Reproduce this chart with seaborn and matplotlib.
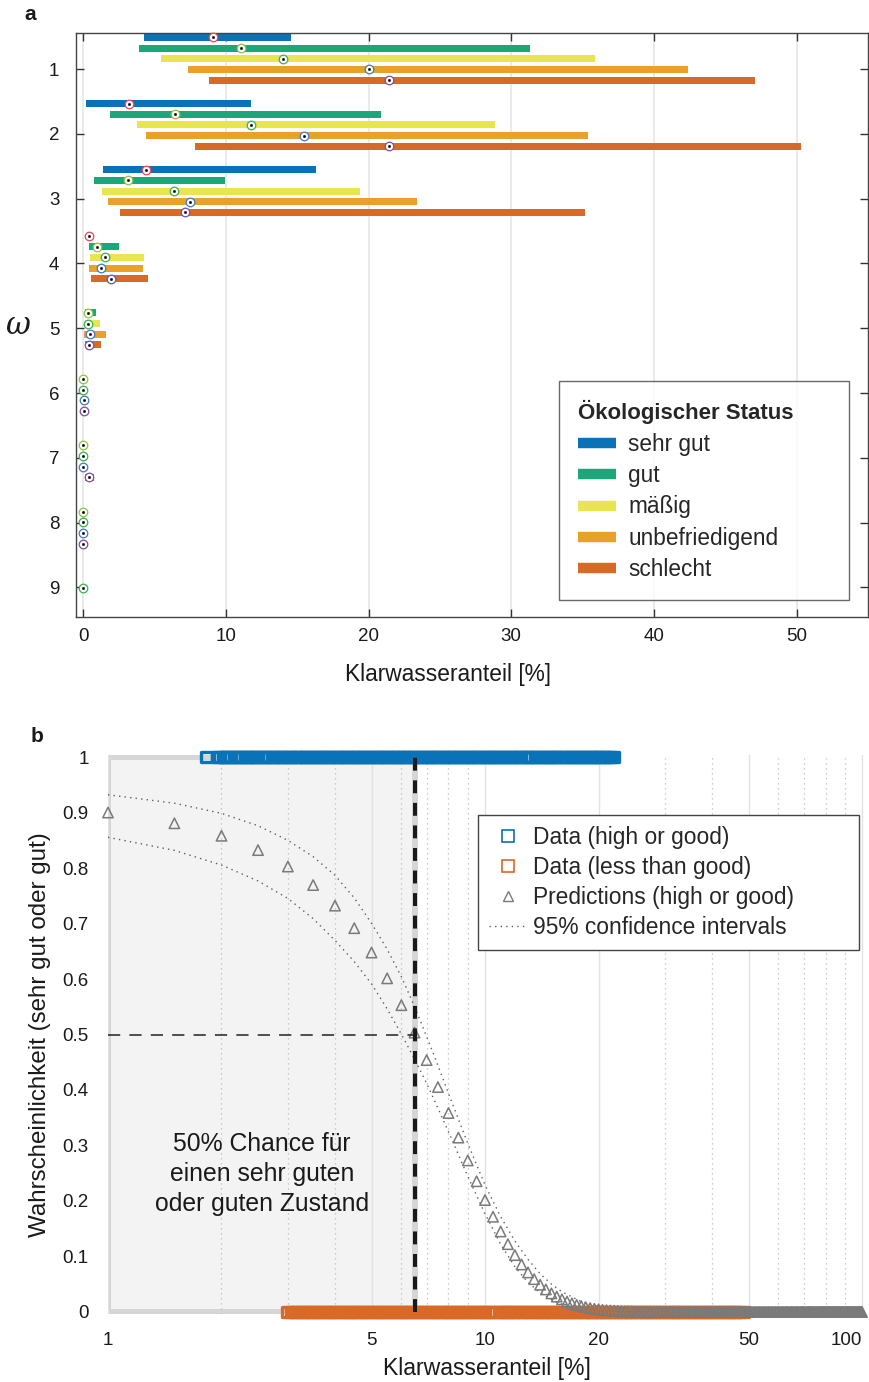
import numpy as np
import matplotlib
matplotlib.use("Agg")
import matplotlib.pyplot as plt
import seaborn as sns
from matplotlib.patches import Rectangle
from matplotlib.lines import Line2D
from matplotlib.ticker import FixedLocator, FixedFormatter, NullFormatter

# ------------------------------------------------------------------
# Panel a: Klarwasseranteil ranges and medians per omega and status
# ------------------------------------------------------------------
nan = np.nan
omega = [1, 2, 3, 4, 5, 6, 7, 8, 9]
status_labels = ["sehr gut", "gut", "mäßig", "unbefriedigend", "schlecht"]

sehr_gut_low = [4.29, 0.21, 1.40, 0.40, nan, nan, nan, nan, nan]
sehr_gut_high = [14.57, 11.76, 16.32, 0.40, nan, nan, nan, nan, nan]
sehr_gut_med = [9.08, 3.24, 4.44, 0.40, nan, nan, nan, nan, nan]

gut_low = [3.88, 1.91, 0.75, 0.40, 0.12, 0.0, 0.0, 0.0, nan]
gut_high = [31.30, 20.85, 9.94, 2.50, 0.89, 0.05, 0.0, 0.0, nan]
gut_med = [11.06, 6.42, 3.15, 0.98, 0.35, 0.02, 0.0, 0.0, nan]

maessig_low = [5.46, 3.76, 1.35, 0.47, 0.12, 0.0, 0.0, 0.0, 0.0]
maessig_high = [35.85, 28.85, 19.37, 4.27, 1.21, 0.05, 0.0, 0.0, 0.0]
maessig_med = [13.98, 11.76, 6.40, 1.54, 0.37, 0.02, 0.0, 0.0, 0.0]

unbef_low = [7.35, 4.39, 1.75, 0.42, 0.07, 0.0, 0.0, 0.0, nan]
unbef_high = [42.40, 35.40, 23.41, 4.22, 1.59, 0.10, 0.0, 0.0, nan]
unbef_med = [20.03, 15.45, 7.47, 1.28, 0.51, 0.05, 0.0, 0.0, nan]

schlecht_low = [8.85, 7.87, 2.59, 0.56, 0.12, 0.0, 0.16, 0.0, nan]
schlecht_high = [47.10, 50.30, 35.20, 4.53, 1.26, 0.20, 0.79, 0.0, nan]
schlecht_med = [21.45, 21.40, 7.14, 1.98, 0.40, 0.07, 0.44, 0.0, nan]

ranges_low = [sehr_gut_low, gut_low, maessig_low, unbef_low, schlecht_low]
ranges_high = [sehr_gut_high, gut_high, maessig_high, unbef_high, schlecht_high]
medians = [sehr_gut_med, gut_med, maessig_med, unbef_med, schlecht_med]

bar_colors = ["#0A72B6", "#1CA77B", "#E8E551", "#E8A12A", "#D86A28"]
ring_colors = ["#E5484D", "#8CC63F", "#38B44A", "#3E7CC9", "#7D4FA0"]

# ------------------------------------------------------------------
# Panel b: logistic regression on Klarwasseranteil
# ------------------------------------------------------------------
data_good = [1.82, 1.95, 1.98, 2.02, 2.05, 2.09, 2.11, 2.16, 2.19, 2.23, 2.26, 2.31,
             2.34, 2.37, 2.42, 2.46, 2.49, 2.55, 2.58, 2.64, 2.67, 2.73, 2.77, 2.83,
             2.87, 2.91, 2.97, 3.03, 3.07, 3.14, 3.18, 3.24, 3.31, 3.35, 3.42, 3.47,
             3.55, 3.59, 3.66, 3.72, 3.80, 3.86, 3.92, 4.01, 4.06, 4.15, 4.20, 4.29,
             4.35, 4.44, 4.50, 4.60, 4.66, 4.77, 4.83, 4.93, 5.00, 5.11, 5.18, 5.29,
             5.37, 5.48, 5.56, 5.67, 5.77, 5.86, 5.98, 6.07, 6.19, 6.28, 6.41, 6.51,
             6.64, 6.74, 6.88, 6.98, 7.12, 7.23, 7.37, 7.48, 7.64, 7.75, 7.91, 8.03,
             8.19, 8.31, 8.48, 8.61, 8.78, 8.92, 9.09, 9.23, 9.42, 9.56, 9.75, 9.90,
             10.1, 10.25, 10.45, 10.6, 10.8, 11.0, 11.2, 11.4, 11.6, 11.8, 12.0, 12.25,
             12.4, 12.7, 12.85, 13.15, 13.3, 13.6, 13.8, 14.1, 14.3, 14.6, 14.8, 15.1,
             15.4, 15.6, 15.9, 16.2, 16.5, 16.8, 17.1, 17.4, 17.7, 18.0, 18.3, 18.6,
             19.0, 19.3, 19.6, 20.0, 20.3, 20.7, 21.1, 21.5, 21.9]
data_less = [2.99, 3.06, 3.13, 3.18, 3.26, 3.31, 3.38, 3.44, 3.51, 3.58, 3.65, 3.72,
             3.80, 3.87, 3.95, 4.03, 4.11, 4.19, 4.28, 4.36, 4.45, 4.54, 4.63, 4.72,
             4.82, 4.91, 5.01, 5.11, 5.21, 5.32, 5.42, 5.53, 5.64, 5.76, 5.87, 5.99,
             6.11, 6.23, 6.36, 6.48, 6.61, 6.75, 6.88, 7.02, 7.16, 7.30, 7.45, 7.60,
             7.75, 7.90, 8.06, 8.22, 8.39, 8.56, 8.73, 8.90, 9.08, 9.26, 9.45, 9.64,
             9.83, 10.0, 10.2, 10.4, 10.6, 10.9, 11.1, 11.3, 11.5, 11.8, 12.0, 12.2,
             12.5, 12.7, 13.0, 13.2, 13.5, 13.8, 14.1, 14.3, 14.6, 14.9, 15.2, 15.5,
             15.8, 16.2, 16.5, 16.8, 17.2, 17.5, 17.9, 18.2, 18.6, 19.0, 19.3, 19.7,
             20.1, 20.5, 20.9, 21.4, 21.8, 22.2, 22.7, 23.1, 23.6, 24.1, 24.5, 25.0,
             25.5, 26.1, 26.6, 27.1, 27.7, 28.2, 28.8, 29.4, 30.0, 30.6, 31.2, 31.8,
             32.4, 33.1, 33.7, 34.4, 35.1, 35.8, 36.5, 37.2, 38.0, 38.7, 39.5, 40.3,
             41.1, 41.9, 42.8, 43.6, 44.5, 45.4, 46.3, 47.2, 48.4]

# prediction grid (Klarwasseranteil 1 % ... 100 % in 0.5 % steps)
x_pred = np.arange(1.0, 100.5, 0.5)
p_pred = [0.9000, 0.8806, 0.8581, 0.8323, 0.8027, 0.7693, 0.7322, 0.6916, 0.6477, 0.6012,
          0.5528, 0.5034, 0.4539, 0.4053, 0.3585, 0.3142, 0.2731, 0.2356, 0.2017, 0.1716,
          0.1451, 0.1222, 0.1025, 0.0856, 0.0713, 0.0592, 0.0491, 0.0406, 0.0335, 0.0277,
          0.0228, 0.0188, 0.0155, 0.0127, 0.0104, 0.0086, 0.0070, 0.0058, 0.0048, 0.0039,
          0.0032, 0.0026, 0.0022, 0.0018, 0.0014, 0.0012, 0.0010, 0.0008, 0.0007, 0.0005,
          0.0004, 0.0004, 0.0003, 0.0002, 0.0002, 0.0002, 0.0001, 0.0001, 0.0001,
          0, 0, 0, 0, 0, 0, 0, 0, 0, 0, 0, 0, 0, 0, 0, 0, 0, 0, 0, 0,
          0, 0, 0, 0, 0, 0, 0, 0, 0, 0, 0, 0, 0, 0, 0, 0, 0, 0, 0, 0,
          0, 0, 0, 0, 0, 0, 0, 0, 0, 0, 0, 0, 0, 0, 0, 0, 0, 0, 0, 0,
          0, 0, 0, 0, 0, 0, 0, 0, 0, 0, 0, 0, 0, 0, 0, 0, 0, 0, 0, 0,
          0, 0, 0, 0, 0, 0, 0, 0, 0, 0, 0, 0, 0, 0, 0, 0, 0, 0, 0, 0,
          0, 0, 0, 0, 0, 0, 0, 0, 0, 0, 0, 0, 0, 0, 0, 0, 0, 0, 0, 0,
          0, 0, 0, 0, 0, 0, 0, 0, 0, 0, 0, 0, 0, 0, 0, 0, 0, 0, 0, 0]

ci_x = [1, 1.5, 2, 2.5, 3, 3.5, 4, 4.5, 5, 5.5, 6, 6.5, 7, 7.5, 8, 9, 10, 11, 12,
        13, 14, 15, 16, 18, 20, 22, 25, 30, 40, 100]
ci_upper = [0.9320, 0.9168, 0.8985, 0.8762, 0.8498, 0.8205, 0.7869, 0.7460, 0.7004,
            0.6537, 0.6040, 0.5507, 0.4963, 0.4444, 0.3937, 0.3038, 0.2287, 0.1718,
            0.1279, 0.0948, 0.0689, 0.0502, 0.0363, 0.0187, 0.0096, 0.0049, 0.0018,
            0.0003, 0.0, 0.0]
ci_lower = [0.8553, 0.8318, 0.8053, 0.7767, 0.7452, 0.7088, 0.6695, 0.6313, 0.5912,
            0.5462, 0.5005, 0.4560, 0.4122, 0.3674, 0.3248, 0.2444, 0.1771, 0.1221,
            0.0817, 0.0533, 0.0348, 0.0223, 0.0142, 0.0058, 0.0023, 0.0009, 0.0002,
            0.0, 0.0, 0.0]

threshold_50 = 6.53   # Klarwasseranteil where P = 0.5
p_threshold = 0.5

b_ticks = [1, 5, 10, 20, 50, 100]
b_minor = [2, 3, 4, 6, 7, 8, 9, 30, 40, 60, 70, 80, 90]
b_yticks = [0, 0.1, 0.2, 0.3, 0.4, 0.5, 0.6, 0.7, 0.8, 0.9, 1]
b_yticklabels = ["0", "0.1", "0.2", "0.3", "0.4", "0.5", "0.6", "0.7", "0.8", "0.9", "1"]

blue_data = "#0A72B6"
orange_data = "#D86926"
gray_pred = "#7A7A7A"

# ------------------------------------------------------------------
sns.set_theme(style="white")
plt.rcParams["font.family"] = ["Liberation Sans", "DejaVu Sans"]
plt.rcParams["axes.unicode_minus"] = False

W, H = 870, 1382
fig = plt.figure(figsize=(W / 100, H / 100), dpi=100)


def fig_box(x0, y0, x1, y1):
    return [x0 / W, 1 - y1 / H, (x1 - x0) / W, (y1 - y0) / H]


# ======================= panel a =======================
ax_a = fig.add_axes(fig_box(76, 33, 868, 617))
GROUP_PITCH = 1.022
ROW_STEP = 0.1647
BAR_H = 0.108

for k in range(5):
    ys = [GROUP_PITCH * (w - 0.5) + k * ROW_STEP for w in omega]
    lo = np.array(ranges_low[k], dtype=float)
    hi = np.array(ranges_high[k], dtype=float)
    ok = ~np.isnan(lo)
    ax_a.barh(np.array(ys)[ok], (hi - lo)[ok], left=lo[ok], height=BAR_H,
              color=bar_colors[k], edgecolor="none", zorder=2)
    med = np.array(medians[k], dtype=float)
    okm = ~np.isnan(med)
    sns.scatterplot(x=med[okm], y=np.array(ys)[okm], ax=ax_a, s=38, marker="o",
                    color="white", edgecolor=ring_colors[k], linewidth=0.9,
                    zorder=4, legend=False, clip_on=False)
    sns.scatterplot(x=med[okm], y=np.array(ys)[okm], ax=ax_a, s=3, marker="o",
                    color="black", edgecolor="black", linewidth=0.3,
                    zorder=5, legend=False, clip_on=False)

ax_a.set_xlim(-0.5, 55)
ax_a.set_ylim(9.457, 0.444)
ax_a.set_xticks([0, 10, 20, 30, 40, 50])
ax_a.set_yticks(omega)
ax_a.grid(axis="x", color="#E4E4E4", linewidth=1.1, zorder=0)
ax_a.set_axisbelow(True)
ax_a.tick_params(axis="both", direction="in", length=6, width=1.0, color="#333333",
                 top=True, right=True, bottom=True, left=True, labelsize=13.5,
                 labelcolor="#1A1A1A")
ax_a.tick_params(axis="x", pad=8)
ax_a.tick_params(axis="y", pad=12)
for sp in ax_a.spines.values():
    sp.set_color("#444444")
    sp.set_linewidth(1.0)
ax_a.set_xlabel("")
ax_a.set_ylabel("")

handles_a = [Line2D([0], [0], color=c, lw=7.5, solid_capstyle="butt") for c in bar_colors]
leg_a = ax_a.legend(handles_a, status_labels, title="Ökologischer Status",
                    loc="upper left", bbox_to_anchor=fig_box(559, 381, 849, 598),
                    bbox_transform=fig.transFigure, mode="expand", frameon=True,
                    fancybox=False, edgecolor="#444444", fontsize=16.3,
                    title_fontproperties={"weight": "bold", "size": 16},
                    alignment="left", handlelength=1.65, handletextpad=0.55,
                    labelspacing=0.37, borderpad=0.85, borderaxespad=0)
leg_a.get_frame().set_linewidth(1.0)
leg_a.set_zorder(10)

fig.text(448 / W, 1 - 675 / H, "Klarwasseranteil [%]", ha="center", va="center",
         fontsize=16.4, color="#1A1A1A")
fig.text(18 / W, 1 - 325 / H, "ω", ha="center", va="center", fontsize=22,
         style="italic", family="DejaVu Serif", color="#1A1A1A")
fig.text(30 / W, 1 - 15 / H, "a", ha="center", va="center", fontsize=15,
         weight="bold", color="#1A1A1A")

# ======================= panel b =======================
ax_b = fig.add_axes(fig_box(108, 754.8, 868, 1314.2))
ax_b.set_xscale("log")
ax_b.set_xlim(1, 103.7)
ax_b.set_ylim(-0.004, 1.004)

# shaded region below the 50 % threshold
ax_b.add_patch(Rectangle((1, 0), threshold_50 - 1, 1, facecolor="#F3F3F3",
                         edgecolor="#D6D6D6", linewidth=4.3, zorder=0.2))

ax_b.xaxis.set_major_locator(FixedLocator(b_ticks))
ax_b.xaxis.set_major_formatter(FixedFormatter([str(t) for t in b_ticks]))
ax_b.xaxis.set_minor_locator(FixedLocator(b_minor))
ax_b.xaxis.set_minor_formatter(NullFormatter())
ax_b.grid(which="major", axis="x", color="#E2E2E2", linewidth=1.0, linestyle="-")
ax_b.grid(which="minor", axis="x", color="#BDBDBD", linewidth=0.9, linestyle=(0, (1, 3)))
ax_b.grid(axis="y", visible=False)
ax_b.set_axisbelow(True)
ax_b.set_yticks(b_yticks)
ax_b.set_yticklabels(b_yticklabels)
ax_b.tick_params(axis="y", direction="in", length=5, width=1.0, color="#333333",
                 labelsize=13.5, pad=14, labelcolor="#1A1A1A")
ax_b.tick_params(axis="x", which="both", length=0, labelsize=13.5, pad=13,
                 labelcolor="#1A1A1A")
for sp in ax_b.spines.values():
    sp.set_visible(False)

# confidence intervals
sns.lineplot(x=ci_x, y=ci_upper, ax=ax_b, color="#5E5E5E", linewidth=1.0,
             dashes=False, estimator=None, sort=False, zorder=2)
sns.lineplot(x=ci_x, y=ci_lower, ax=ax_b, color="#5E5E5E", linewidth=1.0,
             dashes=False, estimator=None, sort=False, zorder=2)
for ln in ax_b.get_lines():
    ln.set_linestyle((0, (1, 3)))

# observed data at P = 1 and P = 0
sns.scatterplot(x=data_good, y=[1] * len(data_good), ax=ax_b, marker="s", s=62,
                color="none", edgecolor=blue_data, linewidth=2.4, zorder=3,
                legend=False, clip_on=False)
sns.scatterplot(x=data_less, y=[0] * len(data_less), ax=ax_b, marker="s", s=62,
                color="none", edgecolor=orange_data, linewidth=2.4, zorder=3,
                legend=False, clip_on=False)

# predictions
sns.scatterplot(x=x_pred, y=p_pred, ax=ax_b, marker="^", s=56, color="none",
                edgecolor=gray_pred, linewidth=1.1, zorder=4, legend=False,
                clip_on=False)

# 50 % guides
ax_b.plot([1, threshold_50], [p_threshold, p_threshold], color="#222222",
          linewidth=1.1, linestyle=(0, (8, 6)), zorder=5)
ax_b.plot([threshold_50, threshold_50], [0, 1], color="#1A1A1A", linewidth=2.9,
          linestyle=(0, (3.2, 2.4)), zorder=6, solid_capstyle="butt",
          dash_capstyle="butt")

# keep the last tick label inside the figure
xlabels = ax_b.get_xticklabels()
xlabels[-1].set_horizontalalignment("right")
xlabels[-1].set_x(100)

handles_b = [
    Line2D([0], [0], linestyle="none", marker="s", markersize=8.5,
           markerfacecolor="none", markeredgecolor=blue_data, markeredgewidth=1.2),
    Line2D([0], [0], linestyle="none", marker="s", markersize=8.5,
           markerfacecolor="none", markeredgecolor=orange_data, markeredgewidth=1.2),
    Line2D([0], [0], linestyle="none", marker="^", markersize=7,
           markerfacecolor="none", markeredgecolor=gray_pred, markeredgewidth=1.0),
    Line2D([0], [0], color="#5E5E5E", linewidth=1.0, linestyle=(0, (1, 3))),
]
labels_b = ["Data (high or good)", "Data (less than good)",
            "Predictions (high or good)", "95% confidence intervals"]
leg_b = ax_b.legend(handles_b, labels_b, loc="upper left",
                    bbox_to_anchor=fig_box(478, 815, 859, 948),
                    bbox_transform=fig.transFigure, mode="expand", frameon=True,
                    fancybox=False, edgecolor="#444444", fontsize=16.4,
                    handlelength=1.6, handletextpad=0.3, labelspacing=0.3,
                    borderpad=0.5, borderaxespad=0, facecolor="white", framealpha=1)
leg_b.get_frame().set_linewidth(1.0)
leg_b.set_zorder(10)

fig.text(262 / W, 1 - 1174 / H, "50% Chance für\neinen sehr guten\noder guten Zustand",
         ha="center", va="center", fontsize=17.8, linespacing=1.3, color="#1A1A1A")
fig.text(487 / W, 1 - 1368 / H, "Klarwasseranteil [%]", ha="center", va="center",
         fontsize=16.6, color="#1A1A1A")
fig.text(40 / W, 1 - 1035 / H, "Wahrscheinlichkeit (sehr gut oder gut)", ha="center",
         va="center", rotation=90, fontsize=17.4, color="#1A1A1A")
fig.text(37 / W, 1 - 737 / H, "b", ha="center", va="center", fontsize=15,
         weight="bold", color="#1A1A1A")

fig.savefig("out.png", dpi=100)
